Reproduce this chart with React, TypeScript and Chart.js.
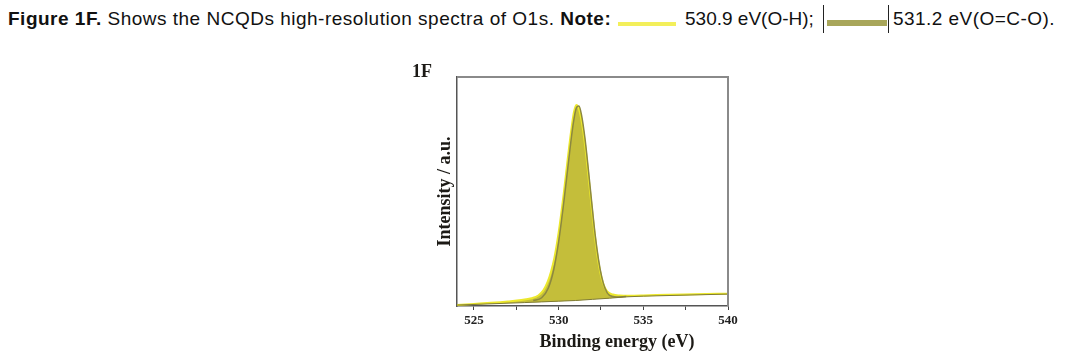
import React, { useEffect, useRef } from "react";
import { Chart, registerables } from "chart.js";

Chart.register(...registerables);

// O-H component (530.9 eV) envelope
const ohEnergy = [524.0, 525.0, 526.0, 527.0, 527.8, 528.4, 528.8, 529.1, 529.35, 529.55, 529.75, 530.0, 530.3, 530.55, 530.75, 530.9, 531.05, 531.2, 531.4, 531.6, 531.8, 532.0, 532.2, 532.4, 532.6, 532.85, 533.2, 533.6, 534.2, 535.0, 536.5, 538.0, 540.0];
const ohIntensity = [0.4, 0.9, 1.4, 2.0, 2.6, 3.4, 4.6, 6.8, 10.5, 15, 21, 32, 49, 65, 77, 84.5, 87.8, 86, 79, 68, 54, 40, 27, 17, 10.5, 6.5, 5.0, 4.6, 4.5, 4.6, 4.9, 5.1, 5.4];

// O=C-O component (531.2 eV)
const ocoEnergy = [528.5, 529.0, 529.4, 529.7, 530.0, 530.3, 530.6, 530.85, 531.05, 531.2, 531.35, 531.55, 531.75, 531.95, 532.15, 532.35, 532.55, 532.75, 533.0, 533.4, 534.0];
const ocoIntensity = [2.4, 3.6, 8, 15.5, 28, 45, 64, 79, 86.5, 87.3, 83.5, 73.5, 60, 45.5, 31.5, 20.5, 12.5, 7.5, 4.6, 3.9, 4.2];

// background
const bgEnergy = [524.0, 528.0, 529.0, 530.0, 531.0, 532.0, 533.0, 534.0, 535.0, 540.0];
const bgIntensity = [0.4, 1.5, 1.8, 2.1, 2.4, 2.9, 3.4, 4.0, 4.3, 5.2];

const xTickValues = [525, 527.5, 530, 532.5, 535, 537.5, 540];
const xTickLabels = ["525", "", "530", "", "535", "", "540"];

const zip = (xs: number[], ys: number[]) => xs.map((x, i) => ({ x, y: ys[i] }));

const FILL = "rgb(196,190,58)";
const SERIF = '"Liberation Serif", "Times New Roman", serif';

export default function App() {
  const ref = useRef<HTMLCanvasElement | null>(null);

  useEffect(() => {
    if (!ref.current) return;
    const annot = {
      id: "annot",
      afterDraw(chart: any) {
        const { ctx, chartArea } = chart;
        const { left, right, top, bottom } = chartArea;
        ctx.save();
        ctx.strokeStyle = "#8a8a8a";
        ctx.lineWidth = 2;
        ctx.beginPath();
        ctx.moveTo(left, top);
        ctx.lineTo(right, top);
        ctx.lineTo(right, bottom);
        ctx.stroke();
        ctx.fillStyle = "#1c1a16";
        ctx.font = `bold 18px ${SERIF}`;
        ctx.textAlign = "left";
        ctx.textBaseline = "alphabetic";
        ctx.fillText("1F", 412, 77);
        ctx.textAlign = "center";
        ctx.fillText("Binding energy (eV)", 617, 347);
        ctx.translate(450, (top + bottom) / 2);
        ctx.rotate(-Math.PI / 2);
        ctx.fillText("Intensity / a.u.", 0, 0);
        ctx.restore();
      },
    };
    const chart = new Chart(ref.current, {
      type: "line",
      data: {
        datasets: [
          {
            label: "background",
            data: zip(bgEnergy, bgIntensity),
            borderColor: "#7f7b35",
            borderWidth: 1,
            pointRadius: 0,
            fill: false,
          },
          {
            label: "531.2 eV(O=C-O)",
            data: zip(ocoEnergy, ocoIntensity),
            borderColor: "#8c8840",
            borderWidth: 1.5,
            pointRadius: 0,
            cubicInterpolationMode: "monotone",
            fill: { target: 0 },
            backgroundColor: FILL,
          },
          {
            label: "530.9 eV(O-H)",
            data: zip(ohEnergy, ohIntensity),
            borderColor: "rgb(236,232,45)",
            borderWidth: 2,
            pointRadius: 0,
            cubicInterpolationMode: "monotone",
            fill: { target: 0 },
            backgroundColor: FILL,
          },
        ],
      },
      options: {
        animation: false,
        responsive: false,
        layout: { padding: { left: 457, right: 361, top: 77, bottom: 27 } },
        plugins: {
          legend: { display: false },
          tooltip: { enabled: false },
          filler: { drawTime: "beforeDatasetsDraw" },
        } as any,
        scales: {
          x: {
            type: "linear",
            min: 524,
            max: 540,
            afterBuildTicks: (s: any) => {
              s.ticks = xTickValues.map((v) => ({ value: v }));
            },
            afterFit: (s: any) => {
              s.height = 30;
            },
            ticks: {
              autoSkip: false,
              maxRotation: 0,
              padding: 3,
              color: "#222",
              font: { family: SERIF, size: 13, weight: "bold" },
              callback: (_v: any, i: number) => xTickLabels[i],
            },
            grid: { drawOnChartArea: false, tickLength: 4, color: "#444", lineWidth: 1 },
            border: { display: true, color: "#555", width: 1.5 },
          },
          y: {
            type: "linear",
            min: 0,
            max: 100,
            afterFit: (s: any) => {
              s.width = 0;
            },
            ticks: { display: false },
            grid: { display: false },
            border: { display: true, color: "#555", width: 1.5 },
          },
        },
      } as any,
      plugins: [annot],
    });
    return () => chart.destroy();
  }, []);

  const textStyle: React.CSSProperties = {
    position: "absolute",
    top: 8,
    fontFamily: '"Liberation Sans", Arial, sans-serif',
    fontSize: 19,
    lineHeight: "22px",
    color: "#111",
    whiteSpace: "nowrap",
  };

  return (
    <div style={{ position: "absolute", left: 0, top: 0, width: 1089, height: 363, background: "#fff" }}>
      <div style={{ ...textStyle, left: 8, letterSpacing: 0.5 }}>
        <b style={{ fontWeight: 600 }}>Figure 1F.</b> Shows the NCQDs high-resolution spectra of O1s.{" "}
        <b style={{ fontWeight: 600 }}>Note:</b>
      </div>
      <div style={{ position: "absolute", left: 618, top: 22, width: 58, height: 4, background: "#f3ef5a" }} />
      <div style={{ ...textStyle, left: 685 }}>530.9 eV(O-H);</div>
      <div style={{ position: "absolute", left: 823, top: 5, width: 1, height: 28, background: "#222" }} />
      <div style={{ position: "absolute", left: 827, top: 20, width: 60, height: 6, background: "#a8a65a" }} />
      <div style={{ position: "absolute", left: 888, top: 5, width: 1, height: 28, background: "#222" }} />
      <div style={{ ...textStyle, left: 893, letterSpacing: 0.45 }}>531.2 eV(O=C-O).</div>
      <canvas ref={ref} width={1089} height={363} style={{ position: "absolute", left: 0, top: 0 }} />
    </div>
  );
}
